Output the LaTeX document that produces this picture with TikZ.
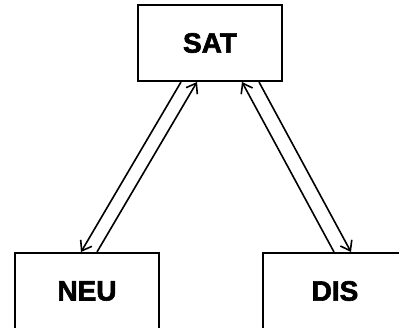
\documentclass[tikz,border=0pt]{standalone}
\usepackage{fontspec}
\setmainfont{Liberation Sans}
\newfontfamily\heavyfont{Liberation Sans Bold}[FakeBold=2.2]
\usetikzlibrary{arrows.meta}
\begin{document}
\begin{tikzpicture}[x=1pt,y=-1pt,
  state/.style={draw, line width=2.2pt, minimum width=144pt, minimum height=76pt,
    inner sep=0pt, font=\heavyfont\fontsize{28}{30}\selectfont},
  link/.style={line width=1.6pt, -{Straight Barb[length=9pt,width=13pt,line width=1.6pt]}}]
  \useasboundingbox (0,0) rectangle (399,328);
  \clip (0,0) rectangle (399,328);
  \node[state] (sat) at (210,43) {SAT};
  \node[state] (neu) at (87,291) {NEU};
  \node[state] (dis) at (335,291) {DIS};
  % paired transitions between the states
  \coordinate (s1) at (181,82);  \coordinate (n1) at (81,252);
  \coordinate (n2) at (97,252);  \coordinate (s2) at (197,82);
  \coordinate (s3) at (259,82);  \coordinate (d1) at (351,252);
  \coordinate (d2) at (334,252); \coordinate (s4) at (242,82);
  \draw[link] (s1) -- (n1);
  \draw[link] (n2) -- (s2);
  \draw[link] (s3) -- (d1);
  \draw[link] (d2) -- (s4);
\end{tikzpicture}
\end{document}
